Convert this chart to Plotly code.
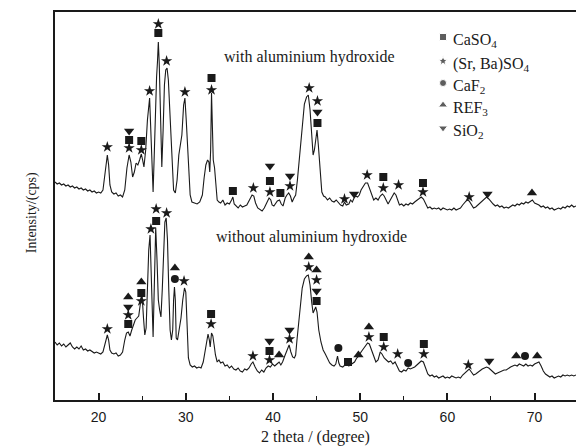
import plotly.graph_objects as go

# ---- XRD pattern: with aluminium hydroxide (2theta, intensity) ----
with_al = [
    (15.0, 218), (15.25, 216), (15.5, 217), (15.75, 215), (16.0, 216), (16.25, 214), (16.5, 215), (16.75, 213),
    (17.0, 214), (17.25, 212), (17.5, 213), (17.75, 211), (18.0, 212), (18.25, 210), (18.5, 211), (18.75, 209),
    (19.0, 210), (19.25, 208), (19.5, 209), (19.75, 207), (20.0, 208), (20.25, 207), (20.5, 210), (20.75, 228),
    (21.0, 245), (21.15, 235), (21.3, 215), (21.5, 208), (21.75, 206), (22.0, 207), (22.25, 204), (22.5, 205),
    (22.75, 203), (23.0, 210), (23.25, 232), (23.5, 245), (23.7, 238), (23.9, 223), (24.1, 228), (24.3, 237),
    (24.5, 235), (24.7, 240), (24.9, 246), (25.05, 240), (25.2, 233), (25.4, 250), (25.6, 280), (25.85, 302),
    (26.0, 270), (26.15, 222), (26.25, 208), (26.4, 250), (26.55, 305), (26.65, 323), (26.75, 338), (26.85, 358),
    (26.95, 338), (27.1, 270), (27.25, 233), (27.4, 270), (27.55, 315), (27.7, 330), (27.85, 332), (28.0, 320),
    (28.2, 280), (28.4, 235), (28.6, 210), (28.8, 207), (29.0, 220), (29.2, 245), (29.4, 260), (29.55, 265),
    (29.75, 295), (29.9, 302), (30.05, 280), (30.25, 240), (30.5, 205), (30.7, 198), (31.0, 197), (31.3, 196),
    (31.6, 198), (31.9, 205), (32.1, 222), (32.3, 235), (32.5, 240), (32.65, 238), (32.75, 228), (32.85, 250),
    (32.95, 307), (33.05, 280), (33.15, 240), (33.3, 232), (33.45, 215), (33.6, 200), (33.8, 198), (34.0, 197),
    (34.25, 200), (34.5, 195), (34.75, 197), (35.0, 196), (35.25, 200), (35.4, 203), (35.55, 196), (35.8, 194),
    (36.0, 192), (36.25, 195), (36.5, 193), (36.75, 194), (37.0, 195), (37.3, 200), (37.6, 205), (37.8, 204),
    (38.0, 197), (38.25, 192), (38.5, 190), (38.75, 189), (39.0, 192), (39.3, 197), (39.55, 202), (39.75, 200),
    (39.9, 195), (40.1, 194), (40.3, 197), (40.5, 199), (40.75, 200), (40.95, 196), (41.15, 194), (41.4, 202),
    (41.6, 205), (41.8, 207), (42.0, 204), (42.2, 198), (42.4, 202), (42.6, 205), (42.8, 220), (43.0, 240),
    (43.2, 260), (43.4, 282), (43.6, 296), (43.85, 303), (44.05, 305), (44.25, 290), (44.45, 265), (44.6, 245),
    (44.75, 250), (44.9, 262), (45.05, 270), (45.2, 255), (45.4, 225), (45.6, 208), (45.8, 204), (46.0, 203),
    (46.25, 200), (46.5, 202), (46.75, 199), (47.0, 198), (47.25, 200), (47.5, 197), (47.75, 195), (48.0, 194),
    (48.2, 198), (48.4, 195), (48.7, 196), (48.9, 200), (49.1, 198), (49.3, 202), (49.5, 204), (49.7, 203),
    (49.9, 205), (50.1, 210), (50.35, 214), (50.6, 217), (50.85, 217), (51.05, 212), (51.3, 204), (51.55, 200),
    (51.8, 202), (52.05, 200), (52.3, 204), (52.55, 206), (52.75, 204), (53.0, 199), (53.2, 196), (53.45, 200),
    (53.7, 204), (53.9, 207), (54.1, 205), (54.3, 200), (54.5, 195), (54.75, 196), (55.0, 194), (55.25, 196),
    (55.5, 195), (55.75, 197), (56.0, 196), (56.25, 198), (56.5, 200), (56.75, 202), (57.0, 203), (57.25, 201),
    (57.5, 196), (57.75, 192), (58.0, 193), (58.25, 191), (58.5, 192), (58.75, 191), (59.0, 192), (59.25, 190),
    (59.5, 192), (59.75, 191), (60.0, 190), (60.25, 191), (60.5, 190), (60.75, 192), (61.0, 190), (61.25, 191),
    (61.5, 192), (61.75, 195), (62.0, 197), (62.25, 200), (62.5, 199), (62.75, 196), (63.0, 192), (63.25, 193),
    (63.5, 195), (63.75, 198), (64.0, 200), (64.25, 202), (64.5, 203), (64.75, 201), (65.0, 198), (65.25, 196),
    (65.5, 194), (65.75, 195), (66.0, 193), (66.25, 194), (66.5, 192), (66.75, 193), (67.0, 192), (67.25, 194),
    (67.5, 195), (67.75, 194), (68.0, 196), (68.25, 195), (68.5, 197), (68.75, 196), (69.0, 198), (69.25, 197),
    (69.5, 199), (69.75, 200), (70.0, 197), (70.25, 196), (70.5, 195), (70.75, 193), (71.0, 194), (71.25, 192),
    (71.5, 193), (71.75, 191), (72.0, 192), (72.25, 190), (72.5, 191), (72.75, 192), (73.0, 191), (73.25, 193),
    (73.5, 192), (73.75, 194), (74.0, 193), (74.25, 195), (74.5, 193), (74.75, 194),
]

# ---- XRD pattern: without aluminium hydroxide (2theta, intensity) ----
without_al = [
    (15.0, 58), (15.25, 55), (15.5, 57), (15.75, 54), (16.0, 56), (16.25, 53), (16.5, 55), (16.75, 57),
    (17.0, 53), (17.25, 51), (17.5, 53), (17.75, 51), (18.0, 54), (18.25, 50), (18.5, 51), (18.75, 49),
    (19.0, 50), (19.25, 48), (19.5, 47), (19.75, 48), (20.0, 47), (20.25, 46), (20.5, 48), (20.75, 57),
    (21.0, 65), (21.15, 60), (21.3, 50), (21.5, 47), (21.75, 46), (22.0, 47), (22.25, 44), (22.5, 45),
    (22.75, 48), (23.0, 60), (23.2, 67), (23.4, 68), (23.6, 64), (23.8, 70), (24.0, 76), (24.2, 80),
    (24.4, 82), (24.6, 84), (24.85, 100), (25.0, 103), (25.15, 82), (25.3, 65), (25.45, 72), (25.6, 110),
    (25.75, 150), (25.9, 165), (26.05, 120), (26.15, 80), (26.25, 63), (26.35, 100), (26.45, 150), (26.55, 172),
    (26.7, 140), (26.85, 100), (27.0, 90), (27.15, 83), (27.3, 110), (27.45, 155), (27.6, 178), (27.75, 182),
    (27.9, 160), (28.05, 110), (28.2, 70), (28.35, 60), (28.5, 70), (28.6, 100), (28.7, 113), (28.8, 100),
    (28.9, 62), (29.05, 60), (29.25, 72), (29.45, 82), (29.65, 100), (29.85, 112), (30.0, 108), (30.15, 70),
    (30.3, 42), (30.5, 35), (30.75, 33), (31.0, 34), (31.25, 32), (31.5, 33), (31.75, 32), (32.0, 38),
    (32.2, 48), (32.4, 60), (32.55, 66), (32.7, 60), (32.8, 53), (32.95, 67), (33.1, 64), (33.25, 55),
    (33.4, 45), (33.6, 38), (33.8, 40), (34.0, 37), (34.25, 38), (34.5, 34), (34.75, 35), (35.0, 32),
    (35.25, 34), (35.5, 31), (35.75, 30), (36.0, 32), (36.25, 29), (36.5, 28), (36.75, 31), (37.0, 30),
    (37.25, 32), (37.5, 36), (37.7, 38), (37.95, 33), (38.2, 29), (38.45, 27), (38.7, 30), (38.95, 28),
    (39.2, 32), (39.45, 34), (39.7, 33), (39.95, 36), (40.2, 34), (40.45, 36), (40.7, 38), (40.9, 35),
    (41.1, 38), (41.35, 44), (41.6, 50), (41.85, 55), (42.05, 48), (42.25, 43), (42.45, 42), (42.6, 45),
    (42.75, 60), (42.95, 80), (43.15, 100), (43.35, 112), (43.6, 121), (43.85, 124), (44.05, 125), (44.25, 115),
    (44.45, 97), (44.6, 87), (44.75, 90), (44.9, 93), (45.05, 88), (45.25, 70), (45.5, 58), (45.75, 50),
    (46.0, 46), (46.25, 42), (46.5, 37), (46.75, 35), (47.0, 34), (47.2, 36), (47.4, 44), (47.55, 37),
    (47.7, 34), (48.0, 33), (48.25, 35), (48.5, 37), (48.7, 34), (48.9, 35), (49.1, 36), (49.35, 38),
    (49.6, 42), (49.85, 44), (50.1, 48), (50.35, 51), (50.6, 55), (50.85, 57), (51.05, 56), (51.3, 50),
    (51.55, 42), (51.8, 38), (52.05, 40), (52.3, 48), (52.5, 46), (52.75, 42), (53.0, 40), (53.25, 38),
    (53.5, 39), (53.75, 36), (54.0, 38), (54.25, 34), (54.5, 29), (54.75, 28), (55.0, 30), (55.25, 29),
    (55.5, 32), (55.75, 31), (56.0, 32), (56.25, 33), (56.5, 35), (56.75, 37), (57.0, 39), (57.25, 38),
    (57.5, 32), (57.75, 26), (58.0, 24), (58.25, 25), (58.5, 23), (58.75, 24), (59.0, 22), (59.25, 23),
    (59.5, 24), (59.75, 22), (60.0, 23), (60.25, 22), (60.5, 24), (60.75, 23), (61.0, 22), (61.25, 23),
    (61.5, 22), (61.75, 25), (62.0, 27), (62.25, 30), (62.5, 31), (62.75, 28), (63.0, 25), (63.25, 26),
    (63.5, 28), (63.75, 30), (64.0, 31), (64.25, 32), (64.5, 33), (64.75, 32), (65.0, 30), (65.25, 28),
    (65.5, 26), (65.75, 27), (66.0, 28), (66.25, 29), (66.5, 30), (66.75, 30), (67.0, 32), (67.25, 33),
    (67.5, 34), (67.75, 35), (68.0, 34), (68.25, 36), (68.5, 35), (68.75, 34), (69.0, 36), (69.25, 34),
    (69.5, 35), (69.75, 34), (70.0, 36), (70.25, 37), (70.5, 38), (70.75, 34), (71.0, 29), (71.25, 26),
    (71.5, 24), (71.75, 23), (72.0, 24), (72.25, 22), (72.5, 23), (72.75, 24), (73.0, 23), (73.25, 25),
    (73.5, 24), (73.75, 25), (74.0, 24), (74.25, 25), (74.5, 24), (74.75, 25),
]

# ---- phase identification markers (2theta, label height) ----
caso4_marks = [(23.5, 260), (24.9, 259), (26.85, 367), (32.95, 322), (35.4, 209), (39.65, 219), (40.85, 207),
               (45.1, 277), (52.65, 223), (57.2, 217),
               (23.4, 76), (24.9, 107), (26.6, 179), (32.9, 86), (39.6, 49), (45.0, 99), (48.6, 38),
               (52.7, 63), (57.3, 56)]
srbaso4_marks = [(21.0, 253), (23.5, 252), (24.9, 250), (25.85, 309), (26.85, 376), (27.8, 339), (29.9, 308),
                 (32.95, 310), (37.75, 212), (39.65, 208), (41.95, 214), (44.15, 312), (45.1, 299), (48.2, 201),
                 (50.8, 225), (52.65, 212), (54.4, 215), (57.2, 208), (62.5, 203),
                 (21.0, 71), (23.4, 85), (24.9, 99), (26.0, 171), (26.6, 191), (27.8, 187), (29.8, 119),
                 (32.9, 76), (37.7, 44), (39.6, 40), (41.9, 61), (44.1, 133), (45.0, 120), (51.0, 63),
                 (52.7, 53), (54.3, 46), (57.3, 46), (62.4, 35)]
caf2_marks = [(28.75, 121), (47.5, 52), (55.5, 37), (68.9, 44)]
ref3_marks = [(69.7, 207),
              (23.4, 103), (24.9, 118), (28.75, 132), (40.7, 45), (44.1, 143), (45.0, 130), (49.8, 45),
              (51.0, 73), (67.9, 44), (70.3, 44)]
sio2_marks = [(23.5, 269), (39.65, 234), (41.95, 224), (45.1, 288), (49.3, 206), (64.6, 206),
              (23.4, 93), (39.6, 59), (41.9, 70), (45.0, 109), (64.8, 39)]

phase_names = ["CaSO<sub>4</sub>", "(Sr, Ba)SO<sub>4</sub>", "CaF<sub>2</sub>", "REF<sub>3</sub>", "SiO<sub>2</sub>"]
phase_marks = [caso4_marks, srbaso4_marks, caf2_marks, ref3_marks, sio2_marks]
phase_symbols = ["square", "star", "circle", "triangle-up", "triangle-down"]
phase_sizes = [8, 8.5, 8, 9, 9]

x_ticks = [20, 30, 40, 50, 60, 70]

SERIF = "Liberation Serif, Times New Roman, serif"
SANS = "Liberation Sans, Arial, sans-serif"
INK = "#1a1a1a"

fig = go.Figure()
for series in (with_al, without_al):
    xs, ys = zip(*series)
    fig.add_trace(go.Scatter(x=xs, y=ys, mode="lines", line=dict(color=INK, width=1.1),
                             showlegend=False, hoverinfo="skip"))

for marks, sym, size in zip(phase_marks, phase_symbols, phase_sizes):
    xs, ys = zip(*marks)
    fig.add_trace(go.Scatter(x=xs, y=ys, mode="markers",
                             marker=dict(symbol=sym, size=size, color=INK, line=dict(width=0)),
                             showlegend=False, hoverinfo="skip"))

# legend (manual)
legend_x = 59.5
legend_text_x = 60.4
legend_rows = [363, 339, 317, 295, 272]
fig.add_trace(go.Scatter(x=[legend_x] * 5, y=legend_rows, mode="markers",
                         marker=dict(symbol=phase_symbols, size=[7, 7.5, 7, 8, 8], color=INK),
                         showlegend=False, hoverinfo="skip"))
annotations = []
for name, yv in zip(phase_names, legend_rows):
    annotations.append(dict(x=legend_text_x, y=yv, xref="x", yref="y", text=name, showarrow=False,
                            xanchor="left", yanchor="middle", yshift=-3,
                            font=dict(family=SERIF, size=16, color=INK)))

annotations.append(dict(x=44.2, y=343, xref="x", yref="y", text="with aluminium hydroxide",
                        showarrow=False, font=dict(family=SERIF, size=16, color=INK)))
annotations.append(dict(x=44.4, y=163, xref="x", yref="y", text="without aluminium hydroxide",
                        showarrow=False, font=dict(family=SERIF, size=16, color=INK)))
annotations.append(dict(x=-0.063, y=0.482, xref="paper", yref="paper", text="Intensity/(cps)",
                        textangle=-90, showarrow=False, font=dict(family=SERIF, size=14, color=INK)))

fig.update_layout(
    width=576, height=446,
    margin=dict(l=55, r=0, t=12, b=46),
    paper_bgcolor="white", plot_bgcolor="white",
    annotations=annotations,
    xaxis=dict(range=[15, 74.75], tickmode="array", tickvals=x_ticks,
               ticktext=[str(t) for t in x_ticks],
               ticks="inside", ticklen=7, tickwidth=1.5, tickcolor=INK,
               ticklabelstandoff=3,
               minor=dict(tickmode="linear", tick0=0, dtick=5, ticks="inside", ticklen=4,
                          tickwidth=1.2, tickcolor=INK, showgrid=False),
               showline=True, linecolor=INK, linewidth=1.5, mirror=True,
               showgrid=False, zeroline=False,
               tickfont=dict(family=SANS, size=14, color=INK),
               title=dict(text="2 theta / (degree)", standoff=8,
                          font=dict(family=SERIF, size=16, color=INK))),
    yaxis=dict(range=[0, 388], showticklabels=False, ticks="", showline=True, linecolor=INK,
               linewidth=1.5, mirror=False, showgrid=False, zeroline=False),
)

fig.write_html("out.html")
